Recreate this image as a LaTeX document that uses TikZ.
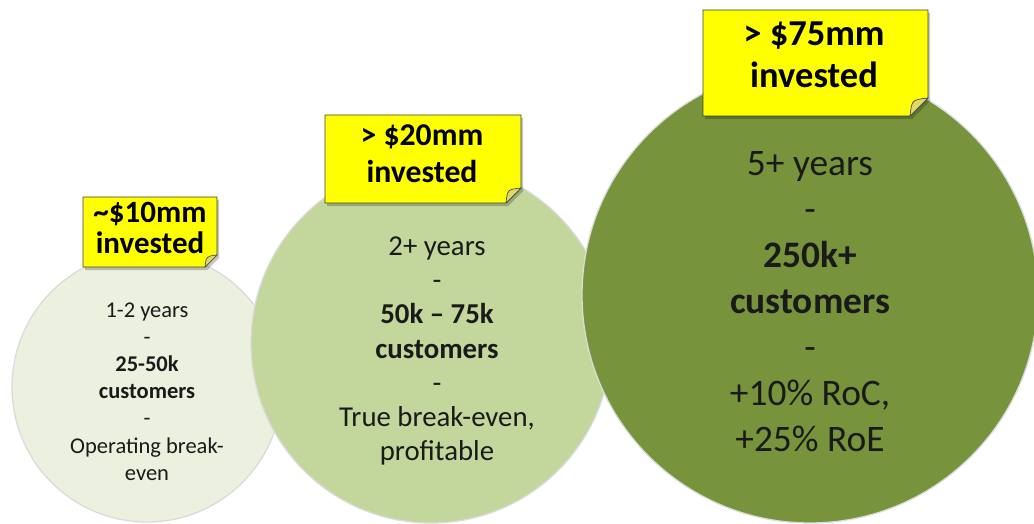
\documentclass[tikz,border=0pt]{standalone}
\usepackage{fontspec}
\setmainfont{Carlito}
\begin{document}
\begin{tikzpicture}[x=1pt,y=-1pt]
\definecolor{paleGreen}{HTML}{EBF1DE}
\definecolor{midGreen}{HTML}{C3D69B}
\definecolor{deepGreen}{HTML}{77933C}
\definecolor{noteYellow}{HTML}{FFFF00}
\definecolor{foldYellow}{HTML}{E2D86A}
\definecolor{ink}{HTML}{1A1A1A}
\tikzset{
  stage/.style={circle, inner sep=0pt, draw=white!86!black, line width=1.3pt},
  stagetext/.style={align=center, text=ink, inner sep=0pt},
  notetext/.style={align=center, text=black, inner sep=0pt},
  notebody/.style={fill=noteYellow, draw=black!75, line width=0.9pt},
  notefold/.style={fill=foldYellow, draw=black!70, line width=0.7pt, line join=round},
  noteshadow/.style={fill=black, opacity=0.22},
}
% sticky note with a curled corner: x1, y1, x2, y2, fold size
\newcommand\stickynote[5]{%
  \fill[noteshadow] (#1+2,#2+3) -- (#3+2,#2+3) -- (#3+2,#4-#5+3) -- (#3-#5+2,#4+3) -- (#1+2,#4+3) -- cycle;
  \filldraw[notebody] (#1,#2) -- (#3,#2) -- (#3,#4-#5) -- (#3-#5,#4) -- (#1,#4) -- cycle;
  \filldraw[notefold] (#3,#4-#5) .. controls (#3-0.9*#5,#4-0.9*#5) .. (#3-#5,#4) -- cycle;
}
\useasboundingbox (0,0) rectangle (1034,524);
\fill[white] (0,0) rectangle (1034,524);

% the three growth stages, smallest first
\node[stage, fill=paleGreen, minimum size=270pt] (c1) at (147,387) {};
\node[stage, fill=midGreen, minimum size=360pt] (c2) at (431,343) {};
\node[stage, fill=deepGreen, minimum size=456pt] (c3) at (810,295) {};

\node[stagetext, font=\fontsize{22.5}{27.2}\selectfont] (t1) at (147,391.5)
  {1-2 years\\-\\\textbf{25-50k}\\\textbf{customers}\\-\\Operating break-\\even};
\node[stagetext, font=\fontsize{28.8}{34.3}\selectfont] (t2) at (437,351)
  {2+ years\\-\\\textbf{50k – 75k}\\\textbf{customers}\\-\\True break-even,\\profitable};
\node[stagetext, font=\fontsize{37.4}{46}\selectfont] (t3) at (810,302)
  {5+ years\\-\\\textbf{250k+}\\\textbf{customers}\\-\\+10\% RoC,\\+25\% RoE};

% investment notes
\stickynote{83}{197}{217}{267}{12}
\node[notetext, font=\fontsize{31}{31}\selectfont\bfseries] (n1) at (150,228) {\char`\~\$10mm\\invested};
\stickynote{325}{115}{521}{203}{15}
\node[notetext, font=\fontsize{31.7}{37}\selectfont\bfseries] (n2) at (422,154) {> \$20mm\\invested};
\stickynote{703}{10}{928}{116}{18}
\node[notetext, font=\fontsize{36.5}{42}\selectfont\bfseries] (n3) at (814,55) {> \$75mm\\invested};
\end{tikzpicture}
\end{document}
